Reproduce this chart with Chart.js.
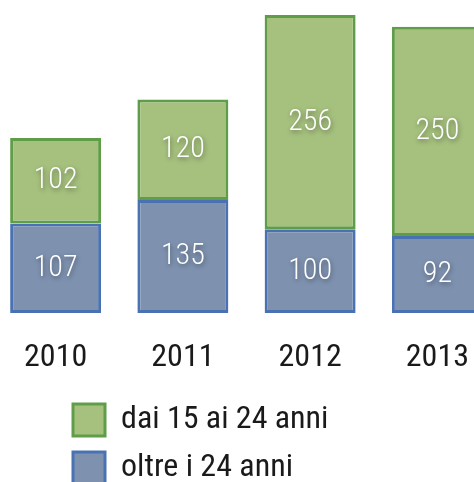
<!DOCTYPE html>
<html>
<head>
<meta charset="utf-8">
<script src="https://cdn.jsdelivr.net/npm/chart.js@4"></script>
<style>
  html, body { margin: 0; padding: 0; background: #ffffff; overflow: hidden; width: 474px; height: 482px; }
  #c { position: absolute; left: -8px; top: 0; }
</style>
</head>
<body>
<canvas id="c" width="509" height="494"></canvas>
<script>
// ---- data ----
const categories = ['2010', '2011', '2012', '2013'];
const youngLabel = 'dai 15 ai 24 anni';
const olderLabel = 'oltre i 24 anni';
const youngValues = [102, 120, 256, 250];
const olderValues = [107, 135, 100, 92];

const FONT = "'Roboto Condensed', 'DejaVu Sans Condensed', sans-serif";
const LEGEND_X = 81; // canvas x of the legend box

const valueLabels = {
  id: 'valueLabels',
  afterDatasetsDraw(chart) {
    const ctx = chart.ctx;
    chart.data.datasets.forEach((ds, di) => {
      const meta = chart.getDatasetMeta(di);
      meta.data.forEach((bar, i) => {
        const p = bar.getProps(['x', 'y', 'base'], true);
        ctx.save();
        ctx.font = '300 30px ' + FONT;
        ctx.fillStyle = '#ffffff';
        ctx.textAlign = 'center';
        ctx.textBaseline = 'middle';
        ctx.shadowColor = 'rgba(0,0,0,0.45)';
        ctx.shadowBlur = 5;
        ctx.shadowOffsetX = 1;
        ctx.shadowOffsetY = 2;
        ctx.fillText(String(ds.data[i]), p.x, (p.y + p.base) / 2);
        ctx.restore();
      });
    });
  }
};

const legendShift = {
  id: 'legendShift',
  afterLayout(chart) {
    const lg = chart.legend;
    if (lg) lg.left = LEGEND_X - lg.options.labels.padding;
  }
};

new Chart(document.getElementById('c'), {
  type: 'bar',
  data: {
    labels: categories,
    datasets: [
      {
        label: olderLabel,
        data: olderValues,
        backgroundColor: '#7e92b0',
        borderColor: '#4a72b2',
        borderWidth: 3,
        borderSkipped: false,
        categoryPercentage: 1,
        barPercentage: 0.715
      },
      {
        label: youngLabel,
        data: youngValues,
        backgroundColor: '#a6c17e',
        borderColor: '#5f9d49',
        borderWidth: 3,
        borderSkipped: false,
        categoryPercentage: 1,
        barPercentage: 0.715
      }
    ]
  },
  options: {
    responsive: false,
    devicePixelRatio: 1,
    animation: false,
    layout: { padding: 0 },
    scales: {
      x: {
        stacked: true,
        grid: { display: false, drawTicks: false },
        border: { display: false },
        ticks: { color: '#1a1a1a', font: { family: FONT, size: 32 }, padding: 26 },
        afterFit(scale) { scale.height = 75; }
      },
      y: {
        stacked: true,
        display: false,
        min: 0,
        max: 374
      }
    },
    plugins: {
      tooltip: { enabled: false },
      legend: {
        position: 'bottom',
        align: 'start',
        reverse: true,
        labels: {
          color: '#1a1a1a',
          font: { family: FONT, size: 32 },
          boxWidth: 32,
          boxHeight: 32,
          padding: 16
        }
      }
    }
  },
  plugins: [valueLabels, legendShift]
});
</script>
</body>
</html>
